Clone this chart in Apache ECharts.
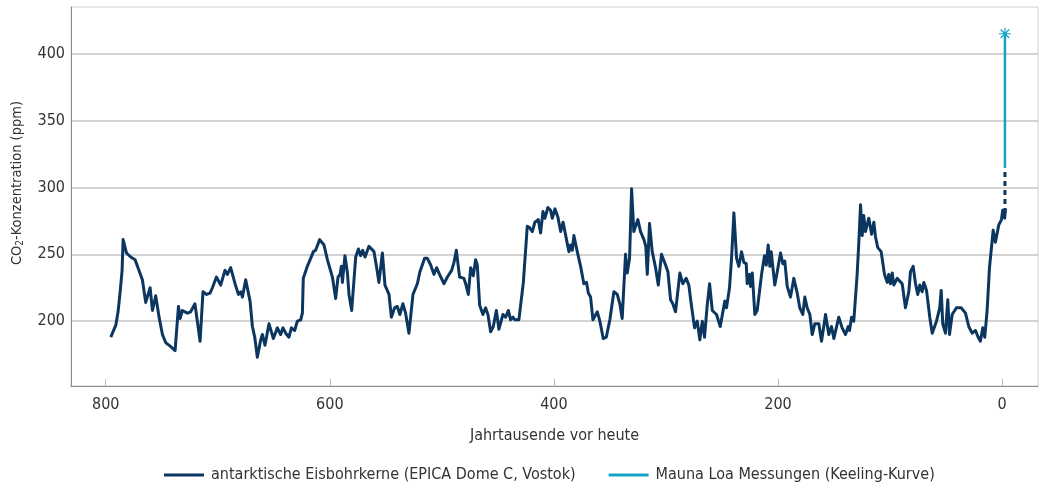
<!DOCTYPE html>
<html>
<head>
<meta charset="utf-8">
<script src="https://cdn.jsdelivr.net/npm/echarts@6/dist/echarts.min.js"></script>
<style>
  html, body { margin: 0; padding: 0; background: #fff; }
  #chart { width: 1042px; height: 490px; }
</style>
</head>
<body>
<div id="chart"></div>
<script>
// [Jahrtausende vor heute, CO2 ppm]
const epica = [
  [795.5,188],[791,197],[789,207],[787,223],[785.4,238],[784.5,261],[781.5,251],[777.7,248],
  [773.8,246],[771.7,241],[767.3,231],[764.3,214],[760.4,225],[758.3,208],[755.4,219],[752.4,203],
  [749.4,190],[746.5,184],[742,181],[738.1,178],[735.1,211],[733.7,202],[731.6,208],[727.1,206],
  [724.2,207],[720.4,213],[715.8,185],[713.2,222],[709.9,220],[706.9,221],[704.8,225],[701.2,233],
  [697.4,227],[693.6,238],[691.4,235],[688.5,240],[684.6,228],[681.6,220],[679.5,222],[678,218],
  [675.1,231],[671.2,215],[669.1,196],[667,188],[664.7,173],[661.7,186],[660.2,190],[657.9,182],
  [654.3,198],[650.4,187],[646.8,195],[643.9,190],[641.8,195],[639.4,191],[636.5,188],[634.3,195],
  [631.4,193],[629,200],[626,201],[624.5,206],[623.7,232],[620.1,241],[617.1,247],[614.7,252],
  [612.7,253],[609.1,261],[605.2,257],[602.2,246],[597.7,233],[594.8,217],[592.7,233],[590.9,235],
  [589.7,241],[588.8,229],[586.5,249],[584.3,236],[582.9,220],[580.5,208],[576.9,248],[574.5,254],
  [572.5,249],[570.7,253],[568.6,248],[565.1,256],[560.6,252],[558.2,240],[556.2,229],[553.1,251],
  [550.8,227],[547.2,220],[545.1,203],[542.2,210],[539.8,211],[537.5,205],[534.8,213],[532.4,206],
  [529.4,191],[525.8,220],[521.9,228],[519.6,237],[515.4,247],[513,247],[510,242],[507.1,235],
  [504.7,240],[502.6,236],[498.2,228],[495.1,233],[491.3,238],[489.2,244],[487.1,253],[484.2,233],
  [480.3,232],[478.8,228],[476.4,220],[474.3,240],[472,234],[469.9,246],[468.4,242],[466.3,212],
  [463.4,205],[461,210],[458.9,205],[456.5,192],[454.1,196],[451.4,208],[449.1,194],[445.5,205],
  [443.1,203],[440.7,208],[438.7,201],[436.6,203],[434.8,201],[431.3,201],[427.3,229],[423.8,271],
  [421.7,270],[419.3,267],[417,274],[414,276],[411.9,266],[409.8,282],[408.1,277],[405.4,285],
  [403,283],[401.5,277],[399.1,284],[396.5,278],[394,267],[391.8,274],[388.1,258],[386.6,252],
  [385.1,257],[383.6,253],[382.2,264],[379.2,252],[376.2,241],[373.3,228],[370.9,229],[369.3,221],
  [367.3,218],[365.2,201],[361.3,207],[359,200],[356,187],[353.3,188],[350.1,201],[346.5,222],
  [343.5,220],[341.2,213],[339.1,202],[336.1,250],[334.6,236],[332.5,247],[330.7,299],[328.7,267],
  [325.1,276],[322.7,267],[319.7,261],[318,256],[316.7,235],[314.7,273],[312.3,252],[309.3,240],
  [306.9,227],[304,250],[300.4,242],[298.3,237],[295.9,216],[293.9,213],[291.5,207],[287.6,236],
  [285,228],[282,232],[279.6,227],[277.5,213],[274.5,195],[272.1,200],[269.8,186],[267.6,200],
  [265.6,188],[263.2,212],[261.1,228],[258.7,208],[254.9,205],[251.6,196],[247.5,215],[246,210],
  [243.3,225],[241.5,247],[239.4,281],[237,247],[235,241],[232.6,252],[230.5,244],[228.4,243],
  [227.5,228],[225.4,235],[224.6,226],[223,236],[220.7,205],[218.6,208],[217.2,208],[214.7,235],
  [212.1,249],[210.5,242],[208.8,257],[207.3,241],[206.1,252],[204.7,241],[202.9,227],[200.7,237],
  [197.8,251],[195.7,243],[194,245],[191.8,226],[188.9,218],[185.9,232],[182.9,221],[180.6,210],
  [177.9,205],[176.1,218],[174,210],[171.6,205],[169.5,190],[167.2,198],[163.6,198],[161.2,185],
  [157.6,205],[154.7,190],[152.3,196],[150.2,187],[145.8,203],[142.8,195],[139.8,190],[137.4,196],
  [136.2,193],[134.4,203],[132.4,200],[129.4,235],[127.9,259],[126.4,287],[124.9,264],[123.5,279],
  [122,267],[119,277],[116.5,265],[114.5,274],[113,263],[111,255],[108,252],[105,235],
  [102.6,229],[101.2,235],[99.7,228],[98.1,236],[96.7,227],[93.7,232],[89.2,228],[86.3,210],
  [83.3,222],[81.8,237],[79.4,241],[77.3,228],[75.3,220],[73.5,227],[71.4,222],[69.9,229],
  [67.5,223],[64.6,203],[62.4,191],[58.6,200],[55.7,210],[54.4,223],[53,198],[50.6,191],
  [48.5,216],[47,190],[44.6,205],[40.8,210],[36.6,210],[32.7,206],[29.8,196],[26.8,191],
  [23.8,193],[21.4,188],[19.4,185],[17.3,195],[15.5,188],[13.4,208],[11.3,240],[8,268],
  [6,259],[3,272],[0.6,276],[-0.5,283],[-2.3,277],[-2.9,284]
];
// gestrichelte Verbindung zwischen Eiskern und Messreihe
const gap = [[-2.5,281],[-2.5,315]];
const maunaLoa = [[-2.5,315],[-2.5,415]];

const xTicks = [0, 200, 400, 600, 800];
const yTicks = [200, 250, 300, 350, 400];
const names = ['antarktische Eisbohrkerne (EPICA Dome C, Vostok)', 'Mauna Loa Messungen (Keeling-Kurve)'];

const FONT = "'Liberation Sans Narrow', 'DejaVu Sans Condensed', sans-serif";
const NAVY = '#0b365f';
const BLUE = '#14a3c7';
const star = 'path://M9 0L11 0L11 20L9 20ZM0 9L20 9L20 11L0 11ZM2.2 3.6L3.6 2.2L17.8 16.4L16.4 17.8ZM16.4 2.2L17.8 3.6L3.6 17.8L2.2 16.4Z';

let chart = echarts.init(document.getElementById('chart'));

let option = {
  animation: false,
  backgroundColor: '#fff',
  textStyle: { fontFamily: FONT },
  grid: {
    left: 71, right: 4, top: 7, bottom: 104,
    show: true, borderColor: '#d0d0d0', borderWidth: 1
  },
  legend: {
    data: names,
    left: 159,
    top: 462,
    icon: 'rect',
    itemWidth: 40,
    itemHeight: 3,
    itemGap: 33,
    textStyle: { fontFamily: FONT, fontSize: 16, color: '#333', padding: [0, 0, 0, 2] }
  },
  graphic: [{
    type: 'text',
    x: 17, y: 183,
    rotation: Math.PI / 2,
    style: {
      text: 'CO{s|2}-Konzentration (ppm)',
      font: '14.5px ' + FONT,
      fill: '#333',
      align: 'center',
      verticalAlign: 'middle',
      rich: { s: { fontSize: 10, fontFamily: FONT, fill: '#333', padding: [7, 0, 0, 0] } }
    }
  }],
  xAxis: {
    type: 'value',
    inverse: true,
    min: -32,
    max: 831,
    name: 'Jahrtausende vor heute',
    nameLocation: 'middle',
    nameGap: 42,
    nameTextStyle: { fontFamily: FONT, fontSize: 16, color: '#333' },
    axisLine: { show: true, onZero: false, lineStyle: { color: '#8c8c8c', width: 1 } },
    axisTick: { show: true, inside: true, length: 7, customValues: xTicks, lineStyle: { color: '#bdbdbd' } },
    axisLabel: { customValues: xTicks, fontFamily: FONT, fontSize: 16, color: '#333', margin: 11 },
    splitLine: { show: false }
  },
  yAxis: {
    type: 'value',
    min: 151.5,
    max: 435,
    axisLine: { show: true, onZero: false, lineStyle: { color: '#8c8c8c', width: 1 } },
    axisTick: { show: false, customValues: yTicks },
    axisLabel: { customValues: yTicks, fontFamily: FONT, fontSize: 16, color: '#333', margin: 6 },
    splitLine: { show: true, lineStyle: { color: '#c4c4c4', width: 1.5 } }
  },
  series: [
    {
      name: names[0],
      type: 'line',
      data: epica,
      symbol: 'none',
      color: NAVY,
      lineStyle: { color: NAVY, width: 3, join: 'round' },
      z: 3
    },
    {
      name: '',
      type: 'line',
      data: gap,
      symbol: 'none',
      color: NAVY,
      lineStyle: { color: NAVY, width: 3, type: [5, 4] },
      z: 3
    },
    {
      name: names[1],
      type: 'line',
      data: [
        { value: maunaLoa[0], symbol: 'none' },
        { value: maunaLoa[1] }
      ],
      symbol: star,
      symbolSize: 12,
      showSymbol: true,
      color: BLUE,
      itemStyle: { color: BLUE },
      lineStyle: { color: BLUE, width: 2.5 },
      z: 4
    }
  ]
};

chart.setOption(option);
</script>
</body>
</html>
